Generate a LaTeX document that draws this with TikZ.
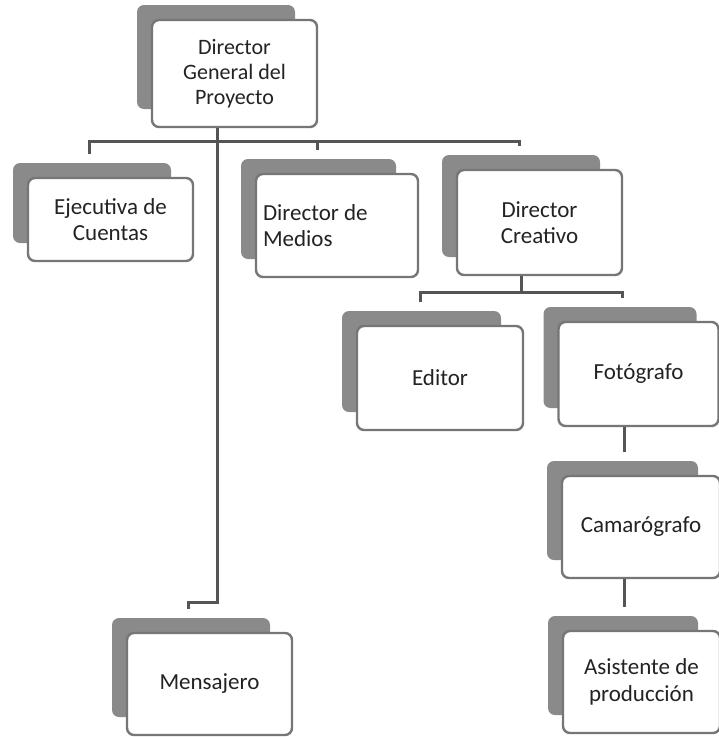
\documentclass[tikz,border=0pt]{standalone}
\usepackage{fontspec}
\setmainfont{Carlito}
\usepackage{tikz}
\definecolor{sombragris}{RGB}{138,138,138}
\definecolor{bordegris}{RGB}{118,118,118}
\definecolor{lineagris}{RGB}{85,85,85}
\definecolor{textogris}{RGB}{35,35,35}

\tikzset{
  caja/.style={draw=bordegris, fill=white, line width=2.4pt, rounded corners=7pt,
    text=textogris, align=flush center, inner sep=0pt, font=\fontsize{23}{26.5}\selectfont},
  sombra/.style={fill=sombragris, rounded corners=7pt},
  linea/.style={draw=lineagris, line width=3pt}
}

% #1 options, #2 name, #3 x, #4 y, #5 width, #6 height, #7 text
\newcommand{\cargo}[7][]{%
  \fill[sombra] ({#3-#5/2-15},{#4-#6/2-15}) rectangle ({#3+#5/2-22},{#4+#6/2-18});
  \node[caja, minimum width=#5pt, minimum height=#6pt, text width={#5pt-14pt}, #1] (#2) at (#3,#4) {#7};
}

\begin{document}
\begin{tikzpicture}[x=1pt,y=-1pt]
\useasboundingbox (0,0) rectangle (719,737);
% director general
\cargo[font=\fontsize{22}{25}\selectfont]{dg}{234.5}{73.5}{165}{107}{Director\\General del\\Proyecto}
% primer nivel
\cargo{ej}{110.5}{219.5}{165}{83}{Ejecutiva de\\Cuentas}
\cargo[align=flush left]{me}{337}{225.5}{162}{103}{Director de\\Medios}
\cargo{cr}{539.5}{222.5}{165}{105}{Director\\Creativo}
% area creativa
\cargo{ed}{440}{378}{166}{104}{Editor}
\cargo{fo}{638.5}{374}{160}{104}{Fotógrafo}
\cargo{ca}{641}{527}{158}{102}{Camarógrafo}
\cargo{as}{641.5}{682}{157}{102}{Asistente de\\producción}
% mensajero
\cargo{ms}{209.5}{684}{165}{102}{Mensajero}

% puntos de llegada
\coordinate (ejT) at ([shift={(-21,-23)}]ej.north);
\coordinate (meT) at ([shift={(-20,-23)}]me.north);
\coordinate (crT) at ([shift={(-20,-23)}]cr.north);
\coordinate (edT) at ([shift={(-20,-23)}]ed.north);
\coordinate (foT) at ([shift={(-16,-23)}]fo.north);
\coordinate (caT) at ([shift={(-17,-23)}]ca.north);
\coordinate (asT) at ([shift={(-17,-23)}]as.north);
\coordinate (msT) at ([shift={(-21,-23)}]ms.north);
\coordinate (bus) at (217,141);
\coordinate (bus2) at (521,292);
\coordinate (codo) at (219,602);

% lineas
\draw[linea] (dg.south -| bus) -- (bus);
\draw[linea] (ejT) |- (bus) -| (crT);
\draw[linea] (meT) -- (meT |- bus);
\draw[linea] (bus) -- (bus |- codo) -| (msT);
\draw[linea] (cr.south -| bus2) -- (bus2);
\draw[linea] (edT) |- (bus2) -| (foT);
\draw[linea] (fo.south -| caT) -- (caT);
\draw[linea] (ca.south -| asT) -- (asT);
\end{tikzpicture}
\end{document}
